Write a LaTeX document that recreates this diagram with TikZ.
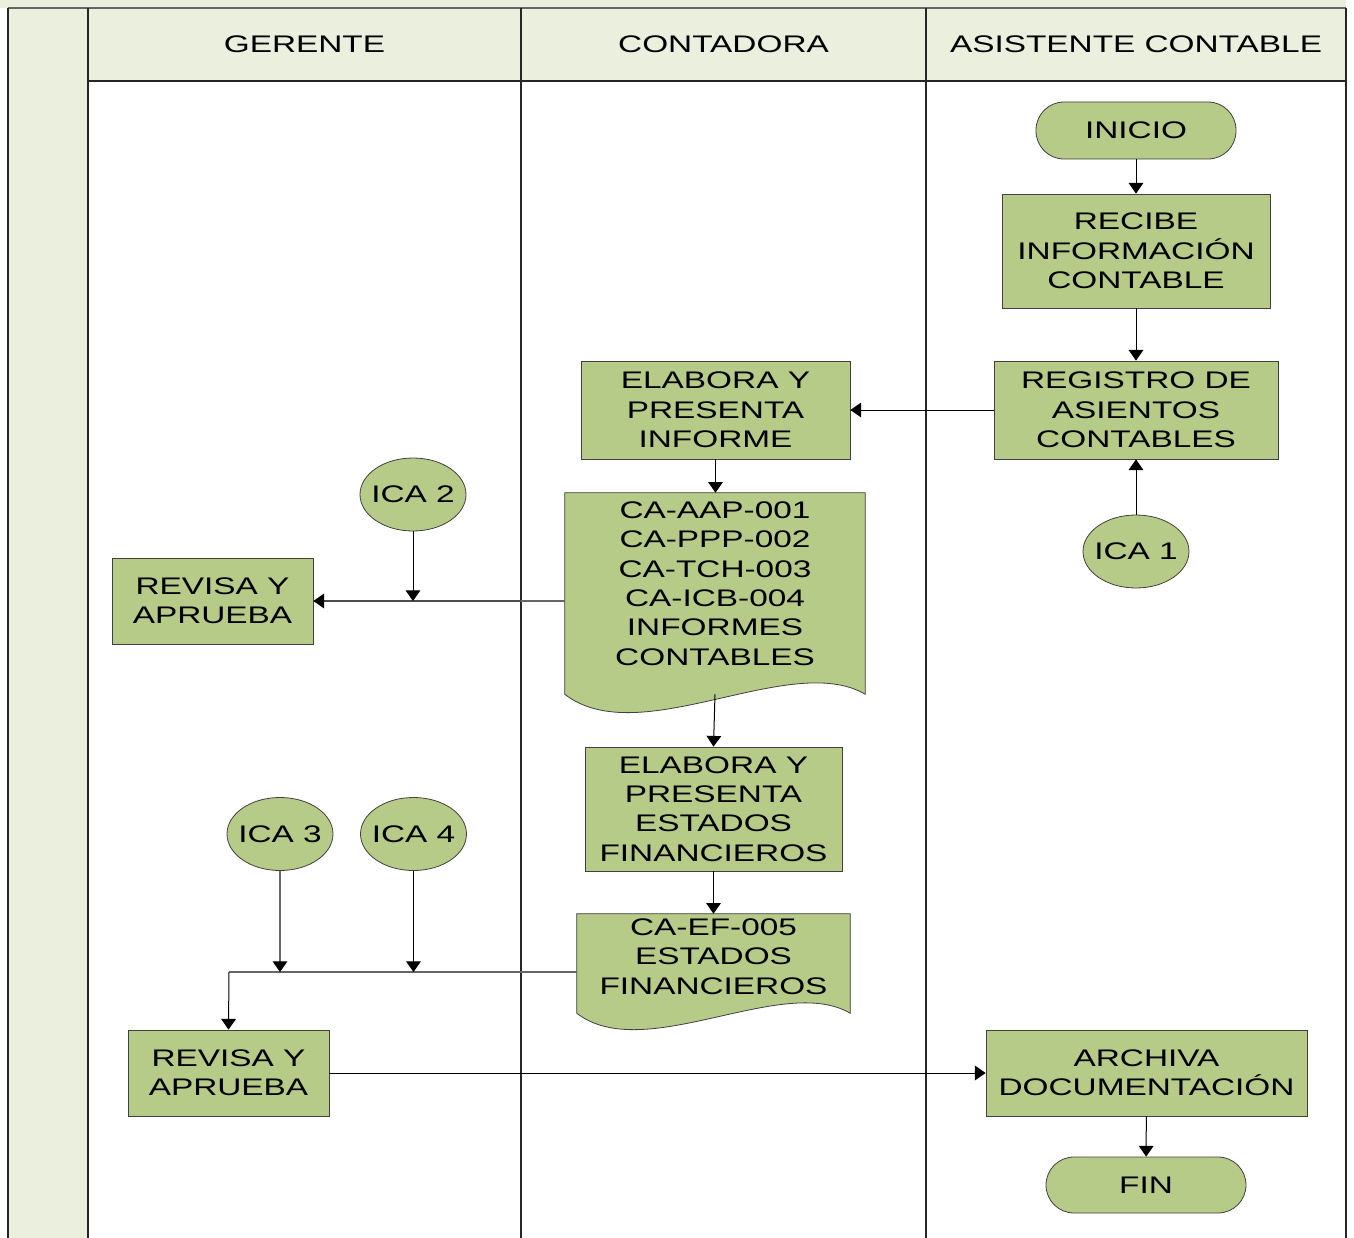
\documentclass[tikz,border=0pt]{standalone}
\usepackage{fontspec}
\setmainfont{Liberation Sans}[FakeStretch=1.39]
\usetikzlibrary{arrows.meta,shapes.geometric}
\definecolor{fgreen}{HTML}{B7CB88}
\definecolor{lanefill}{HTML}{EBEFDE}
\begin{document}
\begin{tikzpicture}[x=0.75pt,y=-0.75pt,
  every node/.style={font=\fontsize{18}{22}\selectfont, align=center, inner sep=0pt},
  procbox/.style={draw=black!75, fill=fgreen, line width=0.6pt},
  termbox/.style={draw=black!75, fill=fgreen, line width=0.6pt, rounded corners=21pt},
  conbox/.style={ellipse, draw=black!75, fill=fgreen, line width=0.6pt, inner xsep=-3.5pt, minimum width=79.5pt, minimum height=54.75pt},
  docshape/.style={draw=black!75, fill=fgreen, line width=0.6pt},
  conn/.style={-{Triangle[width=11pt,length=8pt,color=black]}, line width=0.75pt, draw=black},
  gconn/.style={-{Triangle[width=11pt,length=8pt,color=black]}, line width=0.9pt, draw=black!60},
  laneline/.style={line width=1.5pt, draw=black!85}]
\useasboundingbox (0,0) rectangle (1354,1238);
% lanes
\fill[lanefill] (0,0) rectangle (1346,8);
\fill[lanefill] (8,8) rectangle (88,1238);
\fill[lanefill] (88,8) rectangle (1346,81);
\draw[black!60, line width=1.2pt] (8,8) -- (1346,8);
\draw[laneline] (88,81) -- (1346,81);
\foreach \xx in {8,88,521,926,1346} \draw[laneline] (\xx,8) -- (\xx,1238);
\node (hg) at (304.5,44) {GERENTE};
\node (hc) at (723.5,44) {CONTADORA};
\node (ha) at (1136,44) {ASISTENTE CONTABLE};
% nodes
\node[termbox, minimum width=150pt, minimum height=42.75pt] (inicio) at (1136,130.5) {INICIO};
\node[procbox, minimum width=201pt, minimum height=85.5pt] (recibe) at (1136,251) {RECIBE\\INFORMACIÓN\\CONTABLE};
\node[procbox, minimum width=213pt, minimum height=73.5pt] (registro) at (1136,410) {REGISTRO DE\\ASIENTOS\\CONTABLES};
\node[conbox] (ica1) at (1136,551.5) {ICA 1};
\node[procbox, minimum width=201.75pt, minimum height=73.5pt] (informe) at (715.5,410) {ELABORA Y\\PRESENTA\\INFORME};
% document 1
\node[minimum width=225pt, minimum height=150.75pt] (doc1) at (715,593.5) {};
\draw[docshape] (doc1.north west) -- (doc1.north east) -- (doc1.south east)
  .. controls ++(-75,-44) and ++(75,58) .. (doc1.south west) -- cycle;
\node (doc1t) at (715,583.5) {CA-AAP-001\\CA-PPP-002\\CA-TCH-003\\CA-ICB-004\\INFORMES\\CONTABLES};
\node[conbox] (ica2) at (413,494.5) {ICA 2};
\node[procbox, minimum width=150.75pt, minimum height=64.5pt] (revisa1) at (212.5,601) {REVISA Y\\APRUEBA};
\node[procbox, minimum width=192.75pt, minimum height=93pt] (ef) at (713.5,809) {ELABORA Y\\PRESENTA\\ESTADOS\\FINANCIEROS};
% document 2
\node[minimum width=204.75pt, minimum height=74.25pt] (doc2) at (713.5,963.5) {};
\draw[docshape] (doc2.north west) -- (doc2.north east) -- (doc2.south east)
  .. controls ++(-68,-40) and ++(68,52) .. (doc2.south west) -- cycle;
\node (doc2t) at (713.5,956.5) {CA-EF-005\\ESTADOS\\FINANCIEROS};
\node[conbox] (ica3) at (280,834) {ICA 3};
\node[conbox] (ica4) at (413.5,834) {ICA 4};
\node[procbox, minimum width=150.75pt, minimum height=64.5pt] (revisa2) at (228.5,1073) {REVISA Y\\APRUEBA};
\node[procbox, minimum width=240.75pt, minimum height=64.5pt] (archiva) at (1146.5,1073) {ARCHIVA\\DOCUMENTACIÓN};
\node[termbox, minimum width=150pt, minimum height=42pt] (fin) at (1146,1185) {FIN};
% connectors
\draw[conn] (inicio) -- (recibe);
\draw[conn] (recibe) -- (registro);
\draw[conn] (ica1) -- (registro);
\draw[conn] (registro) -- (informe);
\draw[conn] (informe.south) -- (doc1.north -| informe.south);
\draw[gconn, -] (revisa1.east -| doc1.west) -- (revisa1.east -| 521,0);
\draw[gconn, draw=black!70] (revisa1.east -| 521,0) -- (revisa1.east);
\draw[conn] (ica2) -- (ica2.south |- revisa1.east);
\draw[conn] (doc1.south) -- (ef.north);
\draw[conn] (ef) -- (doc2);
\coordinate (j2) at (229,972);
\draw[gconn, -] (j2 -| doc2.west) -- (j2);
\draw[conn] (j2) -- (revisa2.north);
\draw[gconn] (ica3) -- (ica3.south |- j2);
\draw[conn] (ica4) -- (ica4.south |- j2);
\draw[conn] (revisa2) -- (archiva);
\draw[conn] (archiva) -- (fin);
\end{tikzpicture}
\end{document}
